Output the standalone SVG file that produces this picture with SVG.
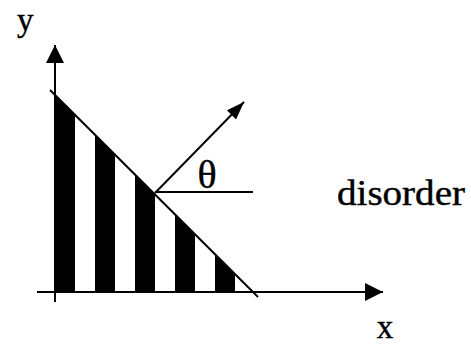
<svg xmlns="http://www.w3.org/2000/svg" width="471" height="347" viewBox="0 0 471 347">
<style>
.ln{stroke:#000;stroke-width:2;fill:none}
.bar{fill:#000}
.t{font-family:"Liberation Serif","Times New Roman",serif;fill:#000;stroke:#000;stroke-width:0.4}
</style>
<defs>
<marker id="ah" markerWidth="18" markerHeight="18" refX="18" refY="9" orient="auto" markerUnits="userSpaceOnUse" viewBox="0 0 18 18">
<path d="M0,0 L18,9 L0,18 Z" fill="#000"/>
</marker>
<marker id="ah2" markerWidth="18" markerHeight="14" refX="18" refY="7" orient="auto" markerUnits="userSpaceOnUse" viewBox="0 0 18 14">
<path d="M0,0.5 L18,7 L0,13.5 Z" fill="#000"/>
</marker>
</defs>
<rect width="471" height="347" fill="#fff"/>
<g id="stripes">
<polygon class="bar" points="55,95 75,115 75,292 55,292"/>
<polygon class="bar" points="95,135 115,155 115,292 95,292"/>
<polygon class="bar" points="135,175 155,195 155,292 135,292"/>
<polygon class="bar" points="175,215 195,235 195,292 175,292"/>
<polygon class="bar" points="215,255 235,275 235,292 215,292"/>
</g>
<g id="connectors">
<line class="ln" x1="55" y1="302" x2="55" y2="45" marker-end="url(#ah)"/>
<line class="ln" x1="37" y1="292" x2="383" y2="292" marker-end="url(#ah)"/>
<line class="ln" x1="50" y1="90" x2="258" y2="297"/>
<line class="ln" x1="155" y1="193" x2="244" y2="102" marker-end="url(#ah2)"/>
<line class="ln" x1="155" y1="192" x2="253" y2="192"/>
</g>
<g id="labels">
<text class="t" x="17" y="31" font-size="33">y</text>
<text class="t" x="385" y="338" font-size="33" text-anchor="middle">x</text>
<text class="t" x="207" y="188" font-size="40" text-anchor="middle">θ</text>
<text class="t" x="337" y="205" font-size="35" textLength="128" lengthAdjust="spacingAndGlyphs">disorder</text>
</g>
</svg>
